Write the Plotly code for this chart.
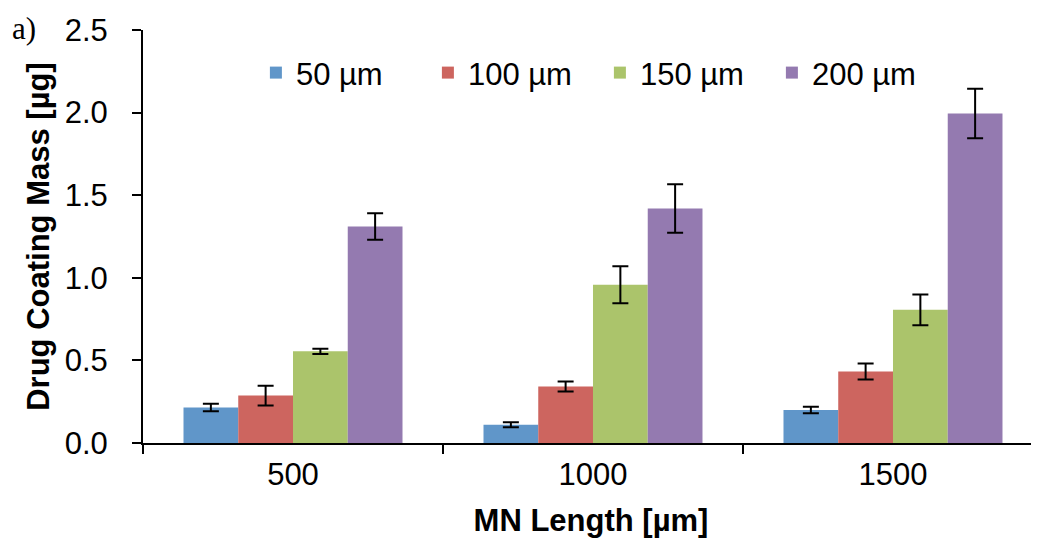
import plotly.graph_objects as go

categories = ["500", "1000", "1500"]
series_names = ["50 µm", "100 µm", "150 µm", "200 µm"]
values = [
    [0.215, 0.111, 0.200],
    [0.287, 0.342, 0.433],
    [0.555, 0.958, 0.806],
    [1.310, 1.419, 1.994],
]
errors = [
    [0.023, 0.015, 0.020],
    [0.060, 0.030, 0.048],
    [0.016, 0.112, 0.093],
    [0.080, 0.147, 0.150],
]
colors = ["#6096C9", "#CD655F", "#ABC46B", "#947AB0"]

FONT = "Liberation Sans, Arial, sans-serif"
FS = 31

fig = go.Figure()
for name, vals, errs, col in zip(series_names, values, errors, colors):
    fig.add_trace(go.Bar(
        x=categories, y=vals, name=name,
        marker=dict(color=col, line=dict(width=0)),
        error_y=dict(type="data", array=errs, visible=True,
                     color="black", thickness=2, width=8),
    ))

fig.update_layout(
    width=1031, height=536,
    margin=dict(l=135, r=0, t=22, b=101),
    paper_bgcolor="white", plot_bgcolor="white",
    barmode="group", bargap=0.27, bargroupgap=0,
    font=dict(family=FONT, size=FS, color="black"),
    showlegend=True,
    legend=dict(orientation="h", x=0.126, xanchor="left", y=0.896, yanchor="middle",
                font=dict(size=FS), entrywidth=127, entrywidthmode="pixels",
                bgcolor="rgba(0,0,0,0)", traceorder="normal"),
    xaxis=dict(
        type="category", range=[-0.5, 2.4867],
        showline=True, linecolor="black", linewidth=2,
        ticks="outside", tickson="boundaries", ticklen=9, tickwidth=2, tickcolor="black",
        showgrid=False, zeroline=False,
        tickfont=dict(size=FS), ticklabelstandoff=3,
        title=dict(text="<b>MN Length [µm]</b>", font=dict(size=FS), standoff=18),
    ),
    yaxis=dict(
        range=[0, 2.5], dtick=0.5, tickformat=".1f",
        showline=True, linecolor="black", linewidth=2,
        ticks="outside", ticklen=9, tickwidth=2, tickcolor="black",
        showgrid=False, zeroline=False,
        tickfont=dict(size=FS), ticklabelstandoff=18,
        title=dict(text="<b>Drug Coating Mass [µg]</b>", font=dict(size=FS), standoff=6),
    ),
)

fig.add_annotation(
    text="a)", xref="paper", yref="paper", x=(10 - 143) / 896, y=1.004,
    xanchor="left", yanchor="middle", showarrow=False,
    font=dict(family="Liberation Serif, Times New Roman, serif", size=31, color="black"),
)

fig.write_html("out.html")
